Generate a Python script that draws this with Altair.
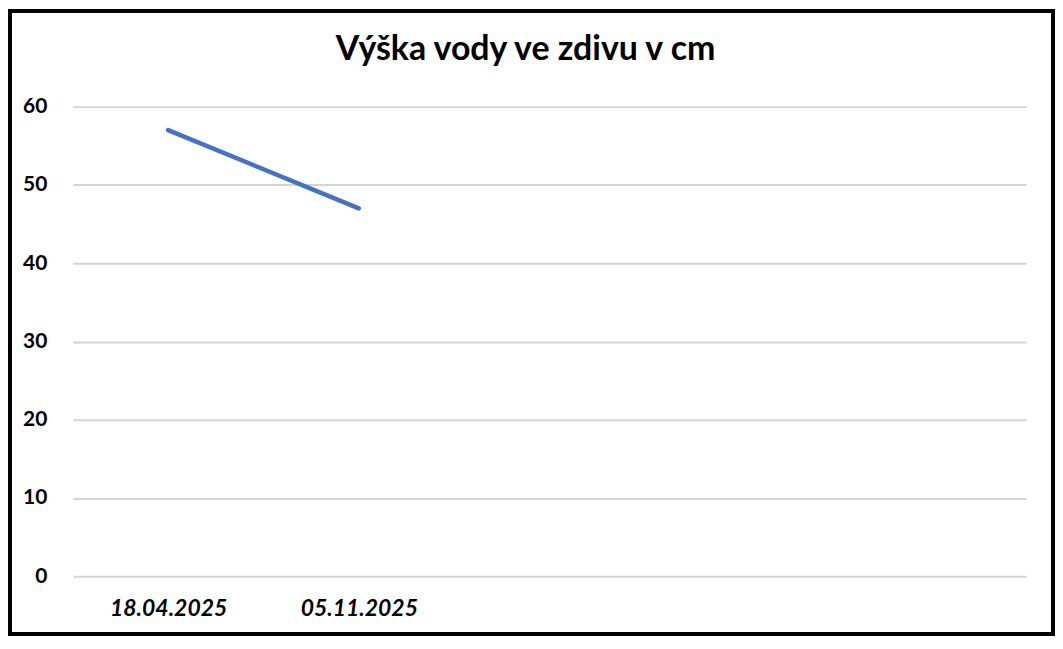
import altair as alt
import pandas as pd

categories = ["18.04.2025", "05.11.2025", " ", "  ", "   "]
values = [57, 47, None, None, None]
y_ticks = [0, 10, 20, 30, 40, 50, 60]
title_text = "Výška vody ve zdivu v cm"

df = pd.DataFrame({"datum": categories, "vyska": values})

FONT = "Lato"

line = alt.Chart(df).mark_line(
    color="#4472c4", strokeWidth=4.5, strokeCap="round"
).encode(
    x=alt.X("datum:N", sort=categories,
            scale=alt.Scale(domain=categories, type="point", padding=0.5),
            axis=alt.Axis(title=None, labelAngle=0, labelFont=FONT, labelFontSize=23,
                          labelFontWeight="bold", labelFontStyle="italic", labelColor="#000000",
                          labelPadding=21, ticks=False, domain=False, grid=False)),
    y=alt.Y("vyska:Q",
            scale=alt.Scale(domain=[0, 60], nice=False, zero=True),
            axis=alt.Axis(title=None, values=y_ticks, labelFont=FONT, labelFontSize=21,
                          labelFontWeight="bold", labelColor="#000000", labelPadding=26,
                          ticks=False, domain=False, grid=True, gridColor="#d4d4d4",
                          gridWidth=2)),
)

title = alt.Chart(pd.DataFrame({"t": [title_text]})).mark_text(
    font=FONT, fontSize=34, fontWeight="bold", color="#000000",
    align="center", baseline="alphabetic"
).encode(
    text="t:N", x=alt.value(454), y=alt.value(-47),
)

border = alt.Chart(pd.DataFrame({"a": [0]})).mark_rect(
    fill=None, stroke="#000000", strokeWidth=4
).encode(
    x=alt.value(-63), x2=alt.value(983),
    y=alt.value(-96), y2=alt.value(529),
)

chart = alt.layer(line, title, border).properties(
    width=956, height=471,
    background="#ffffff",
    autosize=alt.AutoSizeParams(type="none"),
    padding={"left": 65, "top": 98, "right": 29, "bottom": 64},
).configure_view(stroke=None, strokeWidth=0)

chart.save("out.html", embed_options={"renderer": "svg", "actions": False})
